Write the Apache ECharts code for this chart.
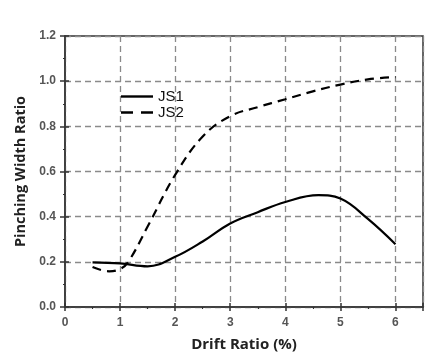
<!DOCTYPE html>
<html><head><meta charset="utf-8">
<script src="https://cdn.jsdelivr.net/npm/echarts@6/dist/echarts.min.js"></script>
<style>html,body{margin:0;padding:0;background:#fff}#c{width:426px;height:357px}</style>
</head><body><div id="c"></div>
<script>
const seriesNames = ['JS1', 'JS2'];
const js1X = [0.5, 1.0, 1.5, 2.0, 2.5, 3.0, 3.5, 4.0, 4.6, 5.0, 5.5, 6.0];
const js1Y = [0.198, 0.193, 0.18, 0.222, 0.29, 0.37, 0.42, 0.465, 0.495, 0.48, 0.39, 0.278];
const js2X = [0.5, 0.8, 1.0, 1.15, 1.5, 2.0, 2.5, 3.0, 3.5, 4.0, 4.5, 5.0, 5.5, 6.0];
const js2Y = [0.177, 0.158, 0.168, 0.2, 0.356, 0.585, 0.755, 0.845, 0.885, 0.92, 0.955, 0.985, 1.008, 1.018];
const xTitle = 'Drift Ratio (%)';
const yTitle = 'Pinching Width Ratio';

const pair = (xs, ys) => xs.map((x, i) => [x, ys[i]]);
const gridDash = {color: '#8a8a8a', width: 1.3, type: [6, 4]};
const axisLineStyle = {color: '#333', width: 1.5};
const labelStyle = {color: '#555', fontSize: 12, fontWeight: 'bold', fontFamily: 'Liberation Sans, Arial'};

const chart = echarts.init(document.getElementById('c'), null, {renderer: 'canvas'});
chart.setOption({
  backgroundColor: '#fff',
  animation: false,
  grid: {left: 65, right: 3, top: 36, bottom: 48, show: true, borderColor: '#333', borderWidth: 1.5, backgroundColor: 'transparent'},
  legend: {
    data: [
      {name: seriesNames[0], icon: 'path://M0,0H32V2.4H0Z'},
      {name: seriesNames[1], icon: 'path://M0,0H12V2.4H0Z M20,0H32V2.4H20Z'}
    ],
    orient: 'vertical', left: 121, top: 89, padding: 0, itemWidth: 32, itemHeight: 2.4, itemGap: 1,
    itemStyle: {color: '#000'},
    textStyle: {fontSize: 15, color: '#111', fontFamily: 'Liberation Sans, Arial'}
  },
  xAxis: [{
    type: 'value', min: 0, max: 6.5, interval: 1,
    name: xTitle, nameLocation: 'middle', nameGap: 30,
    nameTextStyle: {fontSize: 15, fontWeight: 'bold', color: '#222', fontFamily: 'Open Sans'},
    axisLine: {show: true, lineStyle: axisLineStyle},
    axisTick: {show: true, inside: false, length: 4, lineStyle: axisLineStyle},
    minorTick: {show: true, splitNumber: 2, length: 2, lineStyle: {color: '#333', width: 1.2}},
    axisLabel: Object.assign({showMaxLabel: false, margin: 10}, labelStyle),
    splitLine: {show: true, lineStyle: gridDash}
  }, {
    type: 'value', min: 0, max: 6.5, interval: 1, position: 'bottom',
    axisLine: {show: false}, axisTick: {show: true, inside: true, length: 4, lineStyle: axisLineStyle},
    axisLabel: {show: false}, splitLine: {show: false}
  }],
  yAxis: [{
    type: 'value', min: 0, max: 1.2, interval: 0.2,
    name: yTitle, nameLocation: 'middle', nameGap: 36,
    nameTextStyle: {fontSize: 14.5, fontWeight: 'bold', color: '#222', fontFamily: 'Open Sans'},
    axisLine: {show: true, lineStyle: axisLineStyle},
    axisTick: {show: true, inside: false, length: 5, lineStyle: axisLineStyle},
    minorTick: {show: true, splitNumber: 2, length: 2, lineStyle: {color: '#333', width: 1.2}},
    axisLabel: Object.assign({margin: 9, formatter: v => v.toFixed(1)}, labelStyle),
    splitLine: {show: true, lineStyle: gridDash}
  }, {
    type: 'value', min: 0, max: 1.2, interval: 0.2, position: 'left',
    axisLine: {show: false}, axisTick: {show: true, inside: true, length: 4, lineStyle: axisLineStyle},
    axisLabel: {show: false}, splitLine: {show: false}
  }],
  series: [{
    name: seriesNames[0], type: 'line', smooth: 0.4, symbol: 'none',
    data: pair(js1X, js1Y),
    lineStyle: {color: '#000', width: 2.2, type: 'solid'}, itemStyle: {color: '#000'}
  }, {
    name: seriesNames[1], type: 'line', smooth: 0.4, symbol: 'none',
    data: pair(js2X, js2Y),
    lineStyle: {color: '#000', width: 2.2, type: [9, 6]}, itemStyle: {color: '#000'}
  }]
});
</script></body></html>
